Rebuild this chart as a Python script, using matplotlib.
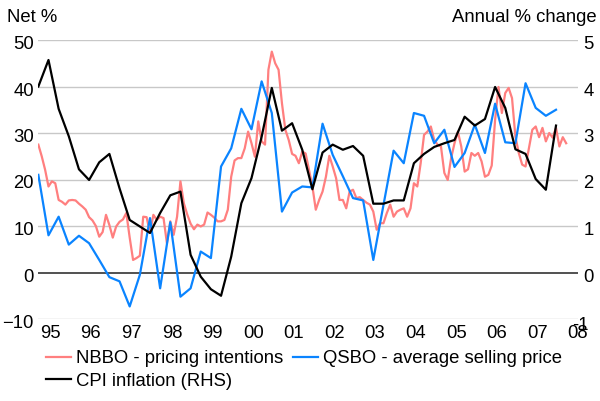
import matplotlib
matplotlib.use("Agg")
import matplotlib.pyplot as plt
import matplotlib.transforms as mtransforms
import numpy as np
import pandas as pd

plt.rcParams['font.family'] = ['Liberation Sans', 'DejaVu Sans']

# ---------------- data ----------------
# Monthly NBBO pricing intentions (net %), Sep 1994 - Sep 2007
nbbo = [27.5, 25.0, 22.1, 18.5, 19.6, 19.2, 15.6, 15.2, 14.6, 15.5,
        15.6, 15.5, 14.8, 14.2, 13.5, 11.9, 11.2, 10.0, 7.7, 8.7,
        12.4, 10.2, 7.5, 9.9, 10.9, 11.4, 12.8, 7.5, 2.7, 3.1,
        3.6, 12.0, 11.9, 8.5, 12.4, 11.3, 12.0, 11.7, 6.3, 11.0,
        8.1, 12.0, 19.6, 14.9, 12.5, 10.5, 9.3, 10.3, 9.9, 10.3,
        12.9, 12.4, 11.8, 11.0, 11.0, 11.3, 13.5, 20.6, 24.1, 24.6,
        24.6, 26.7, 30.3, 27.8, 24.9, 32.5, 28.2, 27.5, 43.6, 47.5,
        45.0, 43.6, 36.4, 30.7, 28.5, 25.5, 25.1, 23.5, 26.0, 25.6,
        22.1, 18.5, 13.5, 15.6, 17.4, 20.6, 25.1, 22.8, 20.3, 15.6,
        15.6, 13.8, 17.4, 17.8, 16.0, 16.2, 15.6, 15.0, 14.6, 13.1,
        9.2, 10.6, 10.6, 12.8, 14.6, 12.0, 13.1, 13.5, 13.8, 12.0,
        13.8, 19.2, 18.5, 23.5, 29.6, 30.3, 31.4, 28.5, 27.5, 27.1,
        21.4, 19.9, 24.6, 27.8, 30.3, 27.1, 21.7, 22.2, 25.7, 25.1,
        25.7, 23.9, 20.6, 21.0, 23.0, 32.8, 39.9, 34.3, 38.6, 39.7,
        37.5, 29.2, 25.7, 23.2, 22.8, 26.8, 30.7, 31.4, 29.1, 31.1,
        28.2, 30.0, 29.0, 31.1, 27.1, 29.1, 27.8]

# Quarterly QSBO average selling price (net %), Sep 1994 - Jun 2007
qsbo = [21.0, 8.0, 12.0, 6.0, 7.9, 6.3, 2.7, -1.0, -1.9, -7.3,
        -0.5, 11.7, -3.4, 10.8, -5.2, -3.4, 4.5, 3.1, 22.8, 26.7,
        35.2, 30.8, 41.1, 34.3, 13.1, 17.2, 18.5, 18.3, 32.0, 25.3,
        20.7, 16.0, 15.5, 2.7, 14.5, 26.2, 23.5, 34.3, 33.7, 27.8,
        30.7, 22.7, 25.7, 31.8, 25.7, 36.3, 28.0, 27.8, 40.7, 35.4,
        33.7, 35.0]

# Quarterly CPI inflation, annual % change (RHS), Sep 1994 - Jun 2007
cpi = [4.00, 4.57, 3.52, 2.93, 2.22, 1.99, 2.37, 2.55, 1.81, 1.13,
       0.99, 0.85, 1.28, 1.66, 1.74, 0.38, -0.09, -0.36, -0.50, 0.34,
       1.49, 2.03, 2.92, 3.97, 3.05, 3.21, 2.64, 1.79, 2.58, 2.75,
       2.64, 2.72, 2.51, 1.48, 1.48, 1.55, 1.55, 2.35, 2.55, 2.70,
       2.78, 2.85, 3.35, 3.16, 3.30, 3.99, 3.54, 2.65, 2.55, 2.01,
       1.78, 3.16]

year_ticks = list(range(1995, 2009))
year_labels = ['95', '96', '97', '98', '99', '00', '01', '02', '03', '04',
               '05', '06', '07', '08']
left_ticks = [-10, 0, 10, 20, 30, 40, 50]
right_ticks = [0, 1, 2, 3, 4, 5]

def to_decimal(dates):
    return dates.year + (dates.month - 1 + 0.5) / 12.0

m_dates = to_decimal(pd.date_range('1994-09-01', periods=len(nbbo), freq='MS'))
q_dates = to_decimal(pd.date_range('1994-09-01', periods=len(qsbo), freq='3MS'))

# ---------------- figure ----------------
fig = plt.figure(figsize=(6.0, 4.01), dpi=100)
ax = fig.add_axes([38/600, 1-319/401, 540/600, 279/401])
ax2 = ax.twinx()

pink = '#ff7f7f'
blue = '#0a84ff'
fs = 13.3

for y in [-10, 10, 20, 30, 40, 50]:
    ax.axhline(y, color='#c8c8c8', lw=1.0, zorder=0)
ax.axhline(0, color='#222222', lw=1.1, zorder=1)

l1, = ax.plot(m_dates, nbbo, color=pink, lw=1.6, label='NBBO - pricing intentions', zorder=2)
l2, = ax.plot(q_dates, qsbo, color=blue, lw=1.6, label='QSBO - average selling price', zorder=3)
l3, = ax2.plot(q_dates, cpi, color='black', lw=1.6, label='CPI inflation (RHS)', zorder=4)

ax.set_xlim(1994.70, 2008.0)
ax.set_ylim(-10, 50)
ax2.set_ylim(-1, 5)
ax.set_yticks(left_ticks)
ax2.set_yticks(right_ticks)
ax.set_xticks(year_ticks)
ax.set_xticklabels(year_labels)

for a in (ax, ax2):
    for s in a.spines.values():
        s.set_visible(False)
    a.tick_params(length=0, labelsize=fs)
ax.tick_params(axis='y', pad=3)
ax.tick_params(axis='x', pad=4)
ax2.tick_params(axis='y', pad=4)

# shift y tick labels slightly downward as in the reference
shift = mtransforms.ScaledTranslation(0, -2.5/100, fig.dpi_scale_trans)
for lab in ax.get_yticklabels() + ax2.get_yticklabels():
    lab.set_transform(lab.get_transform() + shift)

# the '-1' right-axis label squeezed in beside the last year label
fig.text(589/600, 1-326/401, '-1', fontsize=fs, ha='right', va='center')

fig.text(7/600, 1-18/401, 'Net %', fontsize=fs, ha='left', va='center')
fig.text(597/600, 1-18/401, 'Annual % change', fontsize=fs, ha='right', va='center')

leg = fig.legend([l1, l3, l2], [l1.get_label(), l3.get_label(), l2.get_label()],
                 ncol=2, loc='upper left', bbox_to_anchor=(46/600, 1-350/401),
                 frameon=False, fontsize=fs, handlelength=1.35, handletextpad=0.3,
                 columnspacing=0.5, labelspacing=0.32, borderpad=0, borderaxespad=0)

fig.savefig('out.png', dpi=100)
